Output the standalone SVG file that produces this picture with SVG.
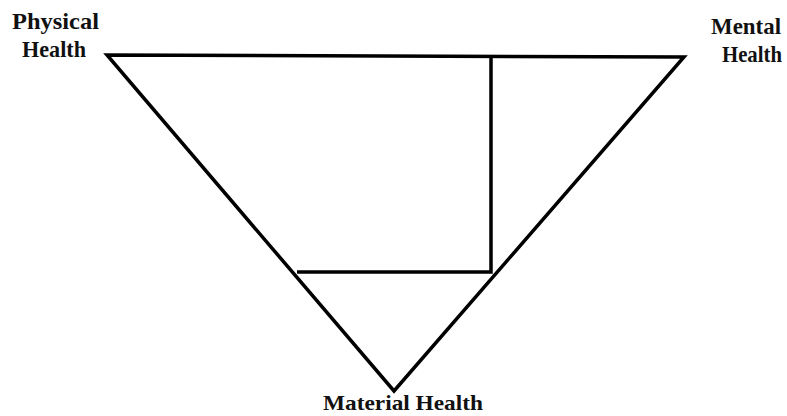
<svg xmlns="http://www.w3.org/2000/svg" width="787" height="416" viewBox="0 0 787 416">
<style>
.ln{fill:none;stroke:#000;stroke-width:3.5;stroke-linejoin:miter;stroke-linecap:butt}
.lb{font-family:"Liberation Serif","Times New Roman",serif;font-size:23px;font-weight:bold;fill:#111}
</style>
<rect width="787" height="416" fill="#fff"/>
<g id="connectors">
<polygon class="ln" points="107,55 684,57 394,391"/>
<polyline class="ln" points="491,56 491,272 297,272"/>
</g>
<g id="physical"><text class="lb" x="12" y="29" textLength="87" lengthAdjust="spacingAndGlyphs">Physical</text><text class="lb" x="22" y="57" textLength="64" lengthAdjust="spacingAndGlyphs">Health</text></g>
<g id="mental"><text class="lb" x="711" y="34" textLength="70" lengthAdjust="spacingAndGlyphs">Mental</text><text class="lb" x="722" y="62" textLength="60" lengthAdjust="spacingAndGlyphs">Health</text></g>
<g id="material"><text class="lb" x="323" y="410" style="font-size:21px" textLength="160" lengthAdjust="spacingAndGlyphs">Material Health</text></g>
</svg>
